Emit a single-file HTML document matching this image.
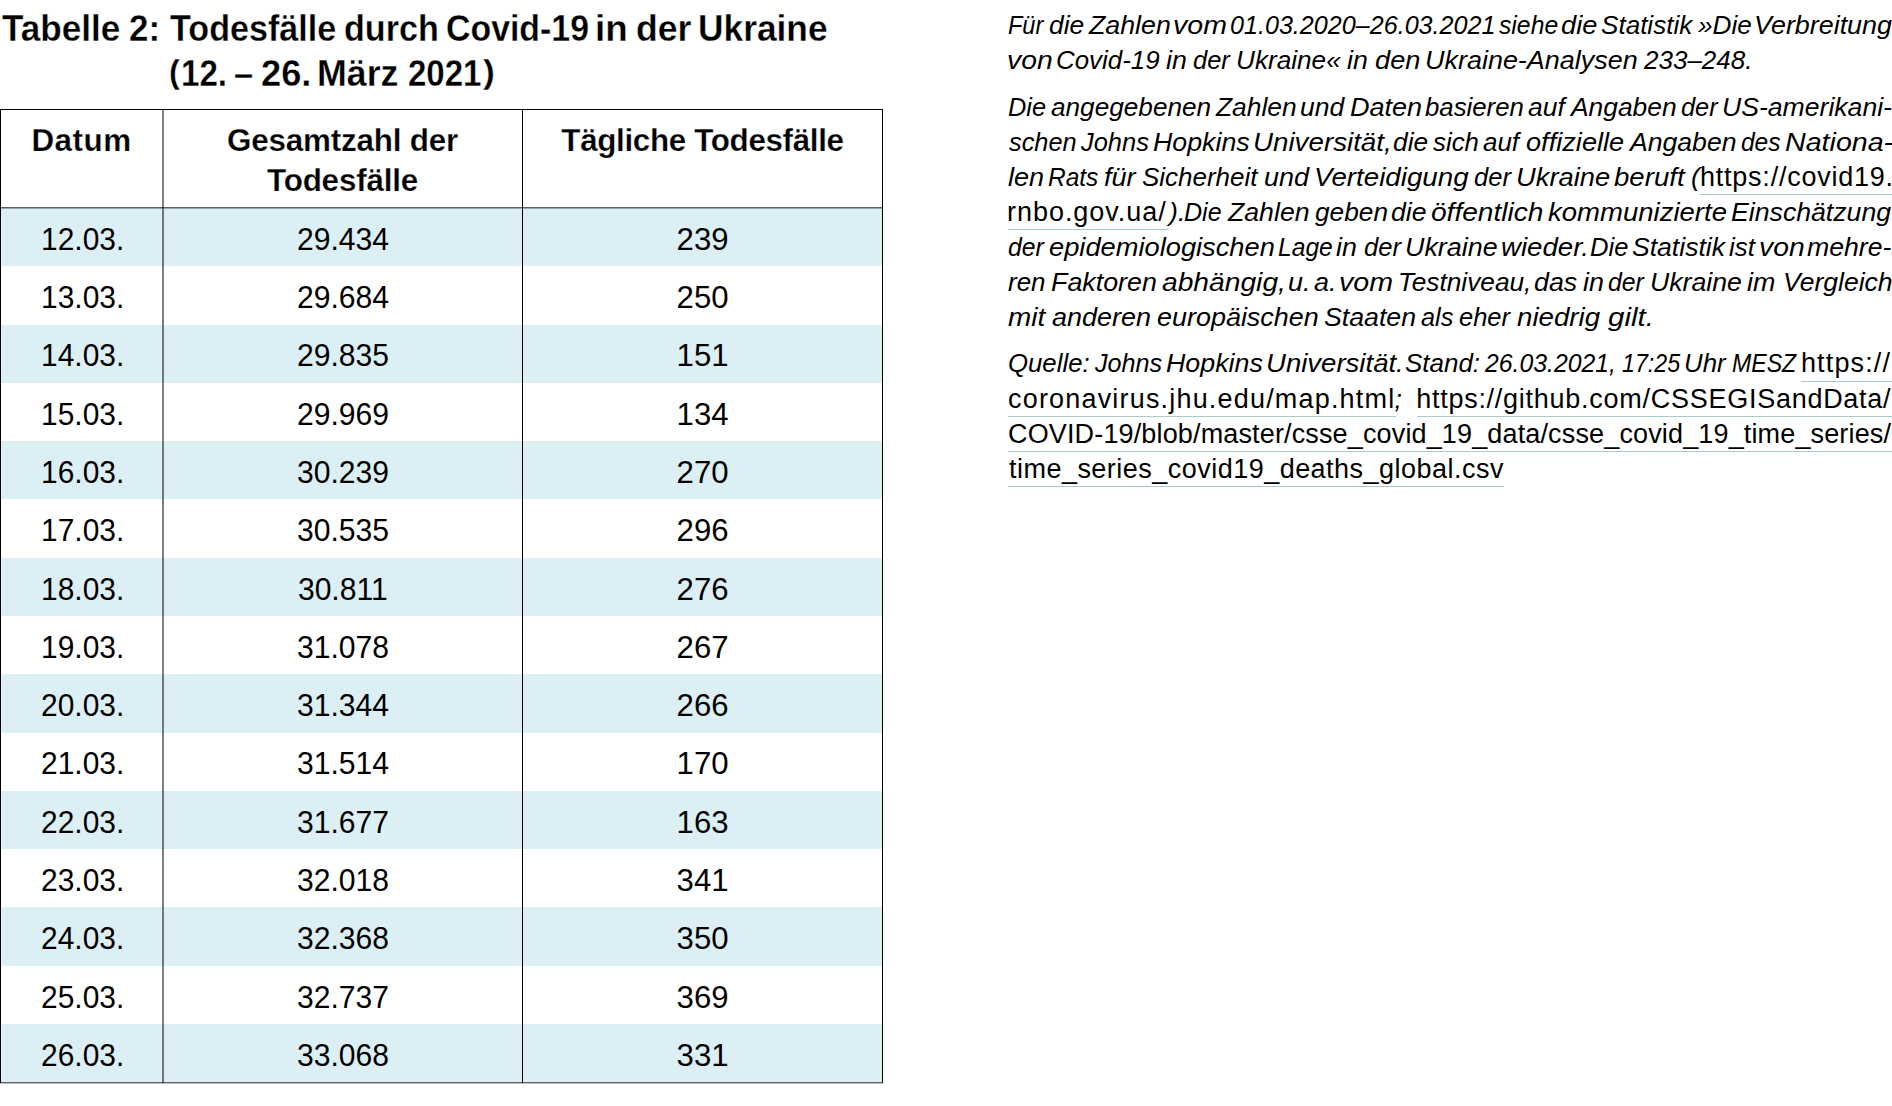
<!DOCTYPE html>
<html lang="de">
<head>
<meta charset="utf-8">
<title>Tabelle 2: Todesfälle durch Covid-19 in der Ukraine (12. – 26. März 2021)</title>
<style>
  html, body { margin:0; padding:0; background:#fff; }
  body { width:1892px; height:1106px; overflow:hidden; position:relative;
         font-family:"Liberation Sans", sans-serif; color:#000; }
  #page { position:absolute; left:0; top:0; width:1892px; height:1106px; overflow:hidden; background:#fff; }
  h1, p { margin:0; padding:0; font-weight:normal; font-size:inherit; }
  .s, .w { position:absolute; top:0; white-space:pre; line-height:1; transform-origin:0 0; color:#000; text-decoration:none; }
  h1 .s { font-size:37.0px; font-weight:bold; -webkit-text-stroke:.3px #fff; }
  .notes { font-size:26.5px; font-style:italic; }
  .l { position:absolute; left:0; width:1892px; height:26.5px; line-height:1; white-space:pre; }
  .notes .u { font-style:normal; font-size:27.0px; }
  .ul { position:absolute; height:1px; background:#a6cbc8; }
  table { position:absolute; left:0; top:109px; width:883px; border-collapse:collapse; table-layout:fixed; border-spacing:0; }
  th, td { padding:0; margin:0; text-align:center; vertical-align:top; white-space:nowrap; overflow:visible; }
  thead tr { height:99px; }
  th { font-size:31.4px; font-weight:bold; line-height:40px; padding-top:12px; letter-spacing:-.2px; -webkit-text-stroke:.25px #fff; }
  td { font-size:30.7px; line-height:31px; padding-top:16px; }
  tr.t1 td { padding-top:15px; }
  td span { display:inline-block; transform:scaleX(.98); }
  td:last-child span { transform:scaleX(1.015); }
  td span.d { transform:scaleX(.975); position:relative; left:1.2px; }
  tr.b td { background:#dceff5; }
  .ln { position:absolute; background:#000; }
</style>
</head>
<body>
<div id="page">
  <h1 class="title">
    <span class="s" style="left:2.20px;top:9.80px;transform:scaleX(0.9488)">Tabelle</span> <span class="s" style="left:129.06px;top:9.80px;transform:scaleX(0.9429)">2:</span> <span class="s" style="left:169.80px;top:9.80px;transform:scaleX(0.9223)">Todesfälle</span> <span class="s" style="left:343.86px;top:9.80px;transform:scaleX(0.9222)">durch</span> <span class="s" style="left:445.77px;top:9.80px;transform:scaleX(0.9150)">Covid-19</span> <span class="s" style="left:595.22px;top:9.80px;transform:scaleX(0.9929)">in</span> <span class="s" style="left:635.88px;top:9.80px;transform:scaleX(0.9618)">der</span> <span class="s" style="left:698.09px;top:9.80px;transform:scaleX(0.9545)">Ukraine</span>
    <span class="s" style="font-size:32.9px;left:168.52px;top:55.90px;transform:scaleX(0.9889)">(</span><span class="s" style="left:180.51px;top:55.20px;transform:scaleX(0.8957)">12.</span> <span class="s" style="left:234.17px;top:55.20px;transform:scaleX(0.9278)">–</span> <span class="s" style="left:260.52px;top:55.20px;transform:scaleX(0.9792)">26.</span> <span class="s" style="left:317.37px;top:55.20px;transform:scaleX(0.9667)">März</span> <span class="s" style="left:408.41px;top:55.20px;transform:scaleX(0.8925)">2021</span><span class="s" style="font-size:32.9px;left:482.70px;top:55.90px;transform:scaleX(1.0800)">)</span>
  </h1>
  <table>
    <colgroup><col style="width:163px"><col style="width:359px"><col style="width:361px"></colgroup>
    <thead>
      <tr><th><span style="letter-spacing:.5px">Datum</span></th><th>Gesamtzahl der<br>Todesfälle</th><th style="letter-spacing:-.35px">Tägliche Todesfälle</th></tr>
    </thead>
    <tbody>
      <tr class="b" style="height:58px"><td><span class="d">12.03.</span></td><td><span>29.434</span></td><td><span>239</span></td></tr>
      <tr style="height:59px"><td><span class="d">13.03.</span></td><td><span>29.684</span></td><td><span>250</span></td></tr>
      <tr class="b t1" style="height:58px"><td><span class="d">14.03.</span></td><td><span>29.835</span></td><td><span>151</span></td></tr>
      <tr style="height:58px"><td><span class="d">15.03.</span></td><td><span>29.969</span></td><td><span>134</span></td></tr>
      <tr class="b" style="height:58px"><td><span class="d">16.03.</span></td><td><span>30.239</span></td><td><span>270</span></td></tr>
      <tr style="height:59px"><td><span class="d">17.03.</span></td><td><span>30.535</span></td><td><span>296</span></td></tr>
      <tr class="b" style="height:58px"><td><span class="d">18.03.</span></td><td><span>30.811</span></td><td><span>276</span></td></tr>
      <tr style="height:58px"><td><span class="d">19.03.</span></td><td><span>31.078</span></td><td><span>267</span></td></tr>
      <tr class="b" style="height:59px"><td><span class="d">20.03.</span></td><td><span>31.344</span></td><td><span>266</span></td></tr>
      <tr class="t1" style="height:58px"><td><span class="d">21.03.</span></td><td><span>31.514</span></td><td><span>170</span></td></tr>
      <tr class="b" style="height:58px"><td><span class="d">22.03.</span></td><td><span>31.677</span></td><td><span>163</span></td></tr>
      <tr style="height:58px"><td><span class="d">23.03.</span></td><td><span>32.018</span></td><td><span>341</span></td></tr>
      <tr class="b" style="height:59px"><td><span class="d">24.03.</span></td><td><span>32.368</span></td><td><span>350</span></td></tr>
      <tr style="height:58px"><td><span class="d">25.03.</span></td><td><span>32.737</span></td><td><span>369</span></td></tr>
      <tr class="b" style="height:58px"><td><span class="d">26.03.</span></td><td><span>33.068</span></td><td><span>331</span></td></tr>
    </tbody>
  </table>
  <div class="lines">
    <i class="ln" style="left:0;top:109px;width:883px;height:1px"></i>
    <i class="ln" style="left:0;top:109px;width:1px;height:974px"></i>
    <i class="ln" style="left:882px;top:109px;width:1px;height:974px"></i>
    <i class="ln" style="left:522px;top:109px;width:1px;height:974px"></i>
    <i class="ln" style="left:162px;top:109px;width:2px;height:974px;background:rgba(0,0,0,.5)"></i>
    <i class="ln" style="left:0;top:207px;width:883px;height:1px;background:rgba(0,0,0,.62)"></i>
    <i class="ln" style="left:0;top:208px;width:883px;height:1px;background:rgba(0,0,0,.3)"></i>
    <i class="ln" style="left:0;top:1082px;width:883px;height:1px;background:rgba(0,0,0,.62)"></i>
    <i class="ln" style="left:0;top:1083px;width:883px;height:1px;background:rgba(0,0,0,.25)"></i>
  </div>
  <div class="notes">
    <p>
      <span class="l" style="top:12.00px"><span class="w" style="left:1008.31px;transform:scaleX(0.8875)">Für</span> <span class="w" style="left:1049.21px;transform:scaleX(0.9939)">die</span> <span class="w" style="left:1088.50px;transform:scaleX(1.0100)">Zahlen</span> <span class="w" style="left:1172.65px;transform:scaleX(1.0766)">vom</span> <span class="w" style="left:1229.95px;transform:scaleX(0.9480)">01.03.2020–26.03.2021</span> <span class="w" style="left:1499.00px;transform:scaleX(0.9339)">siehe</span> <span class="w" style="left:1561.37px;transform:scaleX(1.0273)">die</span> <span class="w" style="left:1600.82px;transform:scaleX(0.9837)">Statistik</span> <span class="w" style="left:1697.80px;transform:scaleX(0.9868)">»Die</span> <span class="w" style="left:1753.57px;transform:scaleX(1.0142)">Verbreitung</span></span>
      <span class="l" style="top:47.00px"><span class="w" style="left:1007.06px;transform:scaleX(1.0692)">von</span> <span class="w" style="left:1056.44px;transform:scaleX(0.9777)">Covid-19</span> <span class="w" style="left:1165.59px;transform:scaleX(1.0100)">in</span> <span class="w" style="left:1193.34px;transform:scaleX(0.9605)">der</span> <span class="w" style="left:1236.33px;transform:scaleX(0.9875)">Ukraine«</span> <span class="w" style="left:1347.49px;transform:scaleX(1.0100)">in</span> <span class="w" style="left:1375.37px;transform:scaleX(1.0286)">den</span> <span class="w" style="left:1425.07px;transform:scaleX(1.0170)">Ukraine-Analysen</span> <span class="w" style="left:1644.10px;transform:scaleX(0.9813)">233–248.</span></span>
    </p>
    <p>
      <span class="l" style="top:94.00px"><span class="w" style="left:1008.24px;transform:scaleX(0.9553)">Die</span> <span class="w" style="left:1050.51px;transform:scaleX(0.9875)">angegebenen</span> <span class="w" style="left:1215.50px;transform:scaleX(0.9950)">Zahlen</span> <span class="w" style="left:1300.10px;transform:scaleX(0.9977)">und</span> <span class="w" style="left:1349.98px;transform:scaleX(1.0191)">Daten</span> <span class="w" style="left:1425.33px;transform:scaleX(0.9727)">basieren</span> <span class="w" style="left:1527.60px;transform:scaleX(0.9974)">auf</span> <span class="w" style="left:1571.00px;transform:scaleX(0.9953)">Angaben</span> <span class="w" style="left:1680.54px;transform:scaleX(0.9579)">der</span> <span class="w" style="left:1721.89px;transform:scaleX(1.0036)">US-amerikani-</span></span>
      <span class="l" style="top:129.00px"><span class="w" style="left:1009.20px;transform:scaleX(0.9565)">schen</span> <span class="w" style="left:1081.20px;transform:scaleX(0.9600)">Johns</span> <span class="w" style="left:1153.39px;transform:scaleX(1.0096)">Hopkins</span> <span class="w" style="left:1253.21px;transform:scaleX(1.0465)">Universität,</span> <span class="w" style="left:1393.21px;transform:scaleX(0.9939)">die</span> <span class="w" style="left:1433.00px;transform:scaleX(0.9739)">sich</span> <span class="w" style="left:1482.82px;transform:scaleX(0.9789)">auf</span> <span class="w" style="left:1525.97px;transform:scaleX(1.0255)">offizielle</span> <span class="w" style="left:1630.40px;transform:scaleX(1.0038)">Angaben</span> <span class="w" style="left:1740.88px;transform:scaleX(0.9244)">des</span> <span class="w" style="left:1784.62px;transform:scaleX(1.0796)">Nationa-</span></span>
      <span class="l" style="top:164.00px"><span class="w" style="left:1008.18px;transform:scaleX(1.0212)">len</span> <span class="w" style="left:1048.48px;transform:scaleX(0.9226)">Rats</span> <span class="w" style="left:1103.78px;transform:scaleX(1.0226)">für</span> <span class="w" style="left:1142.02px;transform:scaleX(0.9797)">Sicherheit</span> <span class="w" style="left:1264.08px;transform:scaleX(1.0182)">und</span> <span class="w" style="left:1314.31px;transform:scaleX(1.0455)">Verteidigung</span> <span class="w" style="left:1473.54px;transform:scaleX(0.9632)">der</span> <span class="w" style="left:1515.54px;transform:scaleX(1.0307)">Ukraine</span> <span class="w" style="left:1613.76px;transform:scaleX(1.0412)">beruft</span> <span class="w" style="left:1691.10px;transform:scaleX(1.0041)">(</span> <span class="w u" style="left:1700.00px;letter-spacing:0.767px">https://covid19.</span></span>
      <span class="l" style="top:199.00px"><span class="w u" style="left:1007.00px;letter-spacing:0.964px">rnbo.gov.ua/</span> <span class="w" style="left:1169.42px;transform:scaleX(1.0100)">).</span> <span class="w" style="left:1184.36px;transform:scaleX(0.9447)">Die</span> <span class="w" style="left:1227.70px;transform:scaleX(1.0063)">Zahlen</span> <span class="w" style="left:1314.70px;transform:scaleX(0.9903)">geben</span> <span class="w" style="left:1391.49px;transform:scaleX(1.0061)">die</span> <span class="w" style="left:1431.14px;transform:scaleX(1.0596)">öffentlich</span> <span class="w" style="left:1547.86px;transform:scaleX(1.0388)">kommunizierte</span> <span class="w" style="left:1730.99px;transform:scaleX(1.0063)">Einschätzung</span></span>
      <span class="l" style="top:234.00px"><span class="w" style="left:1008.27px;transform:scaleX(0.9342)">der</span> <span class="w" style="left:1049.17px;transform:scaleX(1.0290)">epidemiologischen</span> <span class="w" style="left:1278.07px;transform:scaleX(0.9298)">Lage</span> <span class="w" style="left:1336.49px;transform:scaleX(1.0120)">in</span> <span class="w" style="left:1363.63px;transform:scaleX(0.9658)">der</span> <span class="w" style="left:1404.77px;transform:scaleX(1.0148)">Ukraine</span> <span class="w" style="left:1500.56px;transform:scaleX(1.0425)">wieder.</span> <span class="w" style="left:1589.53px;transform:scaleX(0.9658)">Die</span> <span class="w" style="left:1631.70px;transform:scaleX(1.0022)">Statistik</span> <span class="w" style="left:1729.42px;transform:scaleX(0.9769)">ist</span> <span class="w" style="left:1759.16px;transform:scaleX(1.0692)">von</span> <span class="w" style="left:1807.49px;transform:scaleX(1.0061)">mehre-</span></span>
      <span class="l" style="top:269.00px"><span class="w" style="left:1008.22px;transform:scaleX(0.9778)">ren</span> <span class="w" style="left:1050.89px;transform:scaleX(1.0118)">Faktoren</span> <span class="w" style="left:1161.54px;transform:scaleX(1.0643)">abhängig,</span> <span class="w" style="left:1288.29px;transform:scaleX(1.0145)">u.</span> <span class="w" style="left:1314.49px;transform:scaleX(1.0145)">a.</span> <span class="w" style="left:1338.74px;transform:scaleX(1.0800)">vom</span> <span class="w" style="left:1398.02px;transform:scaleX(0.9915)">Testniveau,</span> <span class="w" style="left:1534.39px;transform:scaleX(1.0122)">das</span> <span class="w" style="left:1583.39px;transform:scaleX(1.0145)">in</span> <span class="w" style="left:1608.16px;transform:scaleX(0.9368)">der</span> <span class="w" style="left:1650.19px;transform:scaleX(1.0068)">Ukraine</span> <span class="w" style="left:1747.29px;transform:scaleX(1.0145)">im</span> <span class="w" style="left:1782.90px;transform:scaleX(1.0009)">Vergleich</span></span>
      <span class="l" style="top:304.00px"><span class="w" style="left:1008.15px;transform:scaleX(1.0514)">mit</span> <span class="w" style="left:1052.48px;transform:scaleX(1.0179)">anderen</span> <span class="w" style="left:1156.68px;transform:scaleX(1.0166)">europäischen</span> <span class="w" style="left:1323.79px;transform:scaleX(1.0079)">Staaten</span> <span class="w" style="left:1421.05px;transform:scaleX(0.9531)">als</span> <span class="w" style="left:1459.04px;transform:scaleX(0.9623)">eher</span> <span class="w" style="left:1517.46px;transform:scaleX(1.0449)">niedrig</span> <span class="w" style="left:1607.50px;transform:scaleX(1.1132)">gilt.</span></span>
    </p>
    <p>
      <span class="l" style="top:350.00px"><span class="w" style="left:1008.03px;transform:scaleX(0.9720)">Quelle:</span> <span class="w" style="left:1094.70px;transform:scaleX(0.9500)">Johns</span> <span class="w" style="left:1166.19px;transform:scaleX(1.0117)">Hopkins</span> <span class="w" style="left:1266.22px;transform:scaleX(1.0394)">Universität.</span> <span class="w" style="left:1405.32px;transform:scaleX(0.9797)">Stand:</span> <span class="w" style="left:1484.80px;transform:scaleX(0.9358)">26.03.2021,</span> <span class="w" style="left:1621.92px;transform:scaleX(0.8769)">17:25</span> <span class="w" style="left:1683.85px;transform:scaleX(0.9738)">Uhr</span> <span class="w" style="left:1731.83px;transform:scaleX(0.8726)">MESZ</span> <span class="w u" style="left:1800.90px;letter-spacing:1.157px">https://</span></span>
      <span class="l" style="top:386.00px"><span class="w u" style="left:1008.00px;letter-spacing:1.185px">coronavirus.jhu.edu/map.html</span> <span class="w" style="left:1394.60px">;</span> <span class="w u" style="left:1416.20px;letter-spacing:0.733px">https://github.com/CSSEGISandData/</span></span>
      <span class="l" style="top:421.00px"><span class="w u" style="left:1008.00px;letter-spacing:0.146px">COVID-19/blob/master/csse_covid_19_data/csse_covid_19_time_series/</span></span>
      <span class="l" style="top:456.00px"><span class="w u" style="left:1009.00px;letter-spacing:0.475px">time_series_covid19_deaths_global.csv</span></span>
    </p>
    <i class="ul" style="left:1699.5px;top:194px;width:192.5px"></i>
    <i class="ul" style="left:1008px;top:229px;width:159.5px"></i>
    <i class="ul" style="left:1800.5px;top:381px;width:91.5px"></i>
    <i class="ul" style="left:1008px;top:416px;width:387.5px"></i>
    <i class="ul" style="left:1417px;top:416px;width:475px"></i>
    <i class="ul" style="left:1008px;top:451px;width:884px"></i>
    <i class="ul" style="left:1008px;top:486px;width:496px"></i>
  </div>
</div>
</body>
</html>
